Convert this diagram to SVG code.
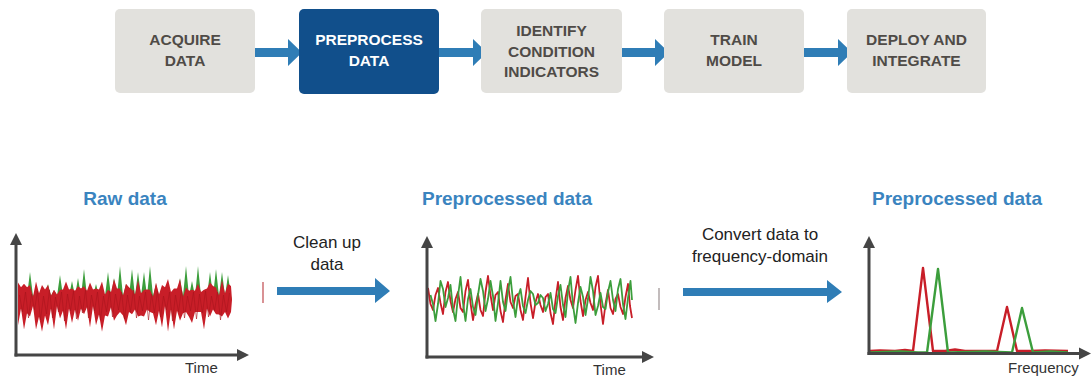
<svg xmlns="http://www.w3.org/2000/svg" width="1091" height="376" viewBox="0 0 1091 376">
<style>
.box{fill:#e2e1dd}
.boxa{fill:#114f8b}
.bt{font-family:"Liberation Sans",Arial,sans-serif;font-weight:bold;font-size:15.5px;fill:#4f4b47;text-anchor:middle}
.bta{fill:#ffffff}
.title{font-family:"Liberation Sans",Arial,sans-serif;font-weight:bold;font-size:19px;fill:#3a84bf;text-anchor:middle}
.lbl{font-family:"Liberation Sans",Arial,sans-serif;font-size:17px;fill:#222222;text-anchor:middle}
.ax{font-family:"Liberation Sans",Arial,sans-serif;font-size:15px;fill:#333333}
.flow{fill:#2f7db6}
.axis{stroke:#454545;stroke-width:3;fill:none}
.axh{fill:#454545}
.red{stroke:#c81e28;fill:none;stroke-linejoin:round}
.green{stroke:#3c9e3c;fill:none;stroke-linejoin:round}
.redf{fill:#c81e28}
.greenf{fill:#3c9e3c}
</style>

<g id="connectors">
  <polygon class="flow" points="255,48 288,48 288,39 302,52.5 288,66 288,57 255,57"/>
  <polygon class="flow" points="439,48 473,48 473,39 487,52.5 473,66 473,57 439,57"/>
  <polygon class="flow" points="622,48 655,48 655,39 669,52.5 655,66 655,57 622,57"/>
  <polygon class="flow" points="804,48 838,48 838,39 852,52.5 838,66 838,57 804,57"/>
  <polygon class="flow" points="277,287 375,287 375,278 390,291 375,303 375,295 277,295"/>
  <polygon class="flow" points="683,288 827,288 827,280 842,292 827,303 827,296 683,296"/>
</g>

<g id="acquire">
  <rect class="box" x="115" y="9" width="140" height="84" rx="5"/>
  <text class="bt" x="185" y="45">ACQUIRE</text>
  <text class="bt" x="185" y="66">DATA</text>
</g>
<g id="preprocess">
  <rect class="boxa" x="299" y="9" width="140" height="85" rx="5"/>
  <text class="bt bta" x="369" y="45">PREPROCESS</text>
  <text class="bt bta" x="369" y="66">DATA</text>
</g>
<g id="identify">
  <rect class="box" x="481" y="9" width="141" height="84" rx="5"/>
  <text class="bt" x="551.5" y="36">IDENTIFY</text>
  <text class="bt" x="551.5" y="57">CONDITION</text>
  <text class="bt" x="551.5" y="77">INDICATORS</text>
</g>
<g id="train">
  <rect class="box" x="664" y="9" width="140" height="84" rx="5"/>
  <text class="bt" x="734" y="45">TRAIN</text>
  <text class="bt" x="734" y="66">MODEL</text>
</g>
<g id="deploy">
  <rect class="box" x="847" y="9" width="139" height="84" rx="5"/>
  <text class="bt" x="916.5" y="45">DEPLOY AND</text>
  <text class="bt" x="916.5" y="66">INTEGRATE</text>
</g>

<g id="raw-data">
  <text class="title" x="125" y="205">Raw data</text>
  <polygon class="greenf" points="18,284 21,296 24,290 27,296 30,272 33,296 36,290 39,296 42,293 45,296 48,284 51,296 54,290 57,296 60,275 63,296 66,290 69,296 72,281 75,296 78,278 81,296 84,269 87,296 90,287 93,296 96,284 99,296 102,293 105,296 108,272 111,296 114,278 117,296 120,266 123,296 126,284 129,296 132,269 135,296 138,272 141,296 144,272 147,296 150,266 153,296 156,284 159,296 162,287 165,296 168,293 171,296 174,290 177,296 180,278 183,296 186,266 189,296 192,281 195,296 198,266 201,296 204,290 207,296 210,272 213,296 216,269 219,296 222,272 225,296 228,275 231,296 232,300 18,300"/>
  <polygon class="redf" points="18,282.6 21,287.2 24,283.8 27,287.2 30,285 33,296.8 36,281.4 39,293.2 42,285 45,289.6 48,285 51,295.6 54,289.8 57,294.4 60,289.8 63,289.6 66,281.4 69,289.6 72,288.6 75,290.8 78,286.2 81,288.4 84,286.2 87,290.8 90,282.6 93,289.6 96,288.6 99,289.6 102,281.4 105,294.4 108,289.8 111,292 114,279 117,288.4 120,288.6 123,295.6 126,283.8 129,287.2 132,289.8 135,294.4 138,280.2 141,293.2 144,289.8 147,289.6 150,289.8 153,296.8 156,282.6 159,294.4 162,285 165,287.2 168,279 171,292 174,288.6 177,288.4 180,279 183,296.8 186,287.4 189,290.8 192,289.8 195,290.8 198,283.8 201,292 204,289.8 207,288.4 210,282.6 213,286 216,287.4 219,295.6 222,280.2 225,293.2 228,283.8 231,286 232,300 231,312 228,318.6 225,312 222,316.4 219,314.4 216,314.2 213,309.6 210,316.4 207,308.4 204,329.6 201,312 198,312 195,312 192,323 189,316.8 186,312 183,313.2 180,320.8 177,310.8 174,329.6 171,309.6 168,331.8 165,306 162,327.4 159,310.8 156,325.2 153,313.2 150,312 147,309.6 144,316.4 141,315.6 138,316.4 135,309.6 132,314.2 129,312 126,325.2 123,315.6 120,312 117,315.6 114,320.8 111,307.2 108,316.4 105,315.6 102,331.8 99,314.4 96,325.2 93,306 90,327.4 87,307.2 84,314.2 81,308.4 78,320.8 75,309.6 72,323 69,308.4 66,329.6 63,310.8 60,318.6 57,306 54,329.6 51,308.4 48,325.2 45,315.6 42,331.8 39,316.8 36,329.6 33,306 30,316.4 27,313.2 24,329.6 21,308.4 18,325.2"/>
  <polyline fill="none" stroke="#a9141c" stroke-width="1" opacity="0.6" points="19.5,295 22.5,312 25.5,292 28.5,318 31.5,294 34.5,310 37.5,291 40.5,320 43.5,296 46.5,314 49.5,290 52.5,318 55.5,297 58.5,312 61.5,292 64.5,321 67.5,294 70.5,311 73.5,291 76.5,319 79.5,296 82.5,313 85.5,290 88.5,318 91.5,295 94.5,311 97.5,292 100.5,320 103.5,296 106.5,312 109.5,291 112.5,317 115.5,294 118.5,310 121.5,292 124.5,319 127.5,295 130.5,312 133.5,290 136.5,318 139.5,296 142.5,311 145.5,292 148.5,320 151.5,294 154.5,313 157.5,291 160.5,317 163.5,296 166.5,310 169.5,292 172.5,321 175.5,295 178.5,312 181.5,290 184.5,318 187.5,296 190.5,311 193.5,292 196.5,319 199.5,294 202.5,313 205.5,291 208.5,317 211.5,296 214.5,311 217.5,292 220.5,320 223.5,295 226.5,312 229.5,293"/>
  <line class="axis" x1="16" y1="243" x2="16" y2="356.5"/>
  <polygon class="axh" points="16,233 22,245 10,245"/>
  <line class="axis" x1="14.5" y1="355" x2="238" y2="355"/>
  <polygon class="axh" points="249,355 237,349 237,361"/>
  <text class="ax" x="185" y="373">Time</text>
  <line x1="263" y1="282" x2="263" y2="303" stroke="#c0484e" stroke-width="1.2"/>
</g>

<g id="clean-up">
  <text class="lbl" x="327" y="248">Clean up</text>
  <text class="lbl" x="327" y="270">data</text>
</g>

<g id="preprocessed-data">
  <text class="title" x="507" y="205">Preprocessed data</text>
  <polyline class="red" stroke-width="1.8" points="428,288 430.5,304 433,310 435.5,295 438,288 440.5,303 443,314 445.5,292 448,282 450.5,301 453,312 455.5,299 458,292 460.5,308 463,312 465.5,291 468,280 470.5,303 473,320 475.5,305 478,294 480.5,310 483,316 485.5,292 488,276 490.5,295 493,310 495.5,295 498,292 500.5,311 503,322 505.5,300 508,284 510.5,302 513,308 515.5,296 518,294 520.5,310 523,320 525.5,297 528,278 530.5,303 533,318 535.5,302 538,294 540.5,305 543,312 545.5,297 548,294 550.5,313 553,324 555.5,300 558,282 560.5,307 563,320 565.5,298 568,286 570.5,300 573,308 575.5,290 578,276 580.5,301 583,316 585.5,300 588,292 590.5,303 593,310 595.5,287 598,276 600.5,304 603,324 605.5,304 608,290 610.5,308 613,314 615.5,299 618,294 620.5,307 623,314 625.5,297 628,284 630,306 632,318"/>
  <polyline class="green" stroke-width="1.8" points="430.5,295 433,304 435.5,321 438,304 440.5,281 443,289 445.5,307 448,298 450.5,285 453,309 455.5,321 458,296 460.5,277 463,303 465.5,321 468,299 470.5,289 473,307 475.5,315 478,295 480.5,279 483,291 485.5,311 488,299 490.5,281 493,296 495.5,321 498,303 500.5,281 503,302 505.5,311 508,291 510.5,277 513,301 515.5,317 518,297 520.5,289 523,306 525.5,313 528,300 530.5,291 533,294 535.5,305 538,303 540.5,295 543,298 545.5,311 548,304 550.5,293 553,309 555.5,313 558,296 560.5,285 563,305 565.5,317 568,291 570.5,277 573,305 575.5,323 578,303 580.5,287 583,297 585.5,315 588,299 590.5,277 593,291 595.5,315 598,306 600.5,293 603,307 605.5,309 608,292 610.5,281 613,300 615.5,311 618,289 620.5,279 623,304 625.5,319 628,298 630.5,281 632,300"/>
  <line class="axis" x1="427" y1="247" x2="427" y2="358.5"/>
  <polygon class="axh" points="427,236 433,248 421,248"/>
  <line class="axis" x1="425.5" y1="357" x2="642" y2="357"/>
  <polygon class="axh" points="654,357 642,351 642,363"/>
  <text class="ax" x="593" y="375">Time</text>
  <line x1="659" y1="288" x2="659" y2="310" stroke="#9a8f90" stroke-width="1.2"/>
</g>

<g id="convert">
  <text class="lbl" x="760" y="240">Convert data to</text>
  <text class="lbl" x="760" y="262">frequency-domain</text>
</g>

<g id="frequency-data">
  <text class="title" x="957" y="205">Preprocessed data</text>
  <polyline class="red" stroke-width="2.4" points="870,351 880,350.5 895,351 905,350 913,351 923,268 933,351 945,351 955,349.5 965,351 997,351 1007,307 1017,351 1030,351 1045,350.5 1068,351"/>
  <polyline class="green" stroke-width="2.4" points="870,352.5 885,352 900,351.5 918,352.5 927,352.5 938,269 948,352.5 970,352 985,351.5 1012,352.5 1022,308 1033,352.5 1050,351.5 1068,352.5"/>
  <line class="axis" x1="869" y1="247" x2="869" y2="355"/>
  <polygon class="axh" points="869,236 875,248 863,248"/>
  <line class="axis" x1="867.5" y1="353.5" x2="1080" y2="353.5"/>
  <polygon class="axh" points="1091,353.5 1079,347.5 1079,359.5"/>
  <text class="ax" x="1008" y="373">Frequency</text>
</g>
</svg>
